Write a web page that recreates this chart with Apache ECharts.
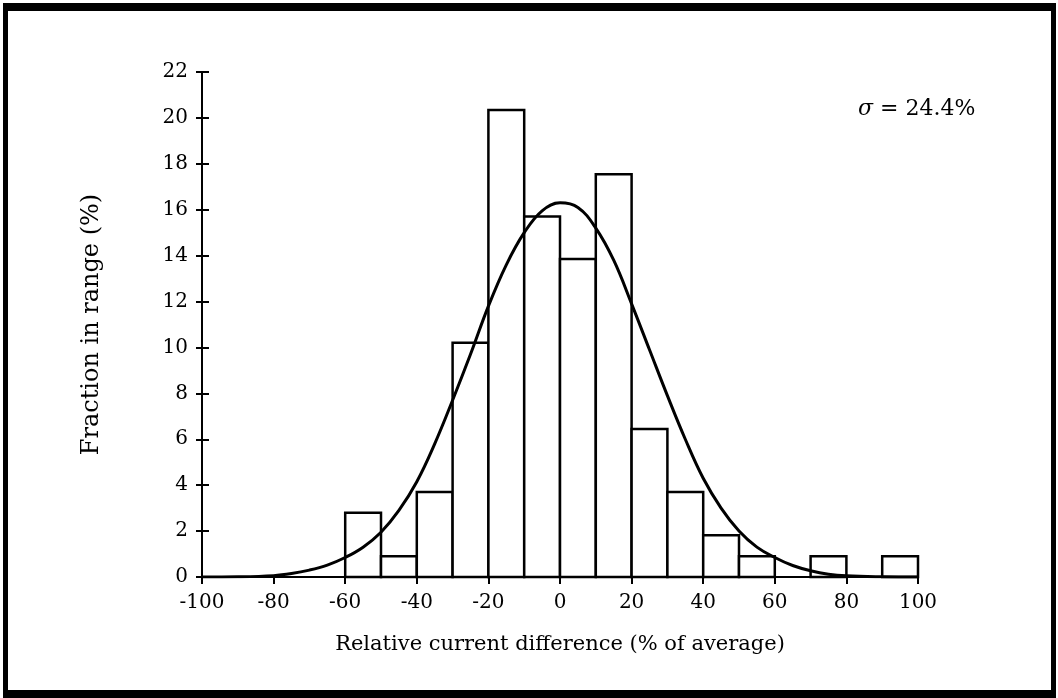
<!DOCTYPE html>
<html>
<head>
<meta charset="utf-8">
<script src="https://cdn.jsdelivr.net/npm/echarts@6/dist/echarts.min.js"></script>
<style>
  html, body { margin: 0; padding: 0; background: #fff; }
  #frame {
    position: absolute; left: 3px; top: 3px;
    width: 1043px; height: 679px;
    border-style: solid; border-color: #000;
    border-width: 8px 5px 8px 5px;
  }
  #main { position: absolute; left: 0; top: 0; width: 1058px; height: 698px; }
</style>
</head>
<body>
<div id="main"></div>
<div id="frame"></div>
<script>
// histogram bins (left edge, right edge) and heights in %
var binStart = [-60, -50, -40, -30, -20, -10, 0, 10, 20, 30, 40, 50, 70, 90];
var binEnd   = [-50, -40, -30, -20, -10, 0, 10, 20, 30, 40, 50, 60, 80, 100];
var binValue = [2.8, 0.9, 3.7, 10.2, 20.35, 15.7, 13.85, 17.55, 6.45, 3.7, 1.82, 0.9, 0.9, 0.9];

// fitted curve
var curveX = [-100, -90, -80, -75, -70, -65, -60, -55, -50, -45, -40, -35, -30, -25, -20, -15, -10, -5, 0, 5, 10, 15, 20, 25, 30, 35, 40, 45, 50, 55, 60, 65, 70, 75, 80, 90, 100];
var curveY = [0, 0.01, 0.06, 0.15, 0.3, 0.52, 0.85, 1.3, 1.95, 2.9, 4.15, 5.8, 7.7, 9.7, 11.8, 13.6, 15.0, 15.95, 16.3, 16.1, 15.2, 13.8, 11.9, 9.9, 7.9, 6.0, 4.3, 3.0, 2.0, 1.3, 0.85, 0.5, 0.27, 0.12, 0.05, 0.01, 0];

var xTicks = [-100, 100, 20];   // min, max, step
var yTicks = [0, 22, 2];

var chart = echarts.init(document.getElementById('main'));

var bins = [];
for (var i = 0; i < binStart.length; i++) {
  bins.push([binStart[i], binEnd[i], binValue[i]]);
}
var curve = [];
for (var j = 0; j < curveX.length; j++) {
  curve.push([curveX[j], curveY[j]]);
}

var font = '"DejaVu Serif", "Liberation Serif", serif';

var option = {
  animation: false,
  grid: { left: 202, right: 140, top: 72, bottom: 121 },
  xAxis: [{
    type: 'value', min: xTicks[0], max: xTicks[1], interval: xTicks[2],
    name: 'Relative current difference (% of average)',
    nameLocation: 'middle', nameGap: 57,
    nameTextStyle: { fontFamily: font, fontSize: 21, color: '#000' },
    axisLine: { onZero: false, lineStyle: { color: '#000', width: 2 } },
    axisTick: { length: 7, lineStyle: { color: '#000', width: 2 } },
    axisLabel: { fontFamily: font, fontSize: 20, color: '#000', margin: 16 },
    splitLine: { show: false }
  }],
  yAxis: [{
    type: 'value', min: yTicks[0], max: yTicks[1], interval: yTicks[2],
    name: 'Fraction in range (%)',
    nameLocation: 'middle', nameGap: 98,
    nameTextStyle: { fontFamily: font, fontSize: 24, color: '#000' },
    axisLine: { show: true, onZero: false, lineStyle: { color: '#000', width: 2 } },
    axisTick: { show: true, length: 6, lineStyle: { color: '#000', width: 2 } },
    axisLabel: { fontFamily: font, fontSize: 20, color: '#000', margin: 14 },
    splitLine: { show: false }
  }, {
    type: 'value', min: yTicks[0], max: yTicks[1], interval: yTicks[2],
    position: 'left',
    axisLine: { show: false, onZero: false },
    axisTick: { show: true, inside: true, length: 7, lineStyle: { color: '#000', width: 2 } },
    axisLabel: { show: false },
    splitLine: { show: false }
  }],
  graphic: [{
    type: 'text', left: 858, top: 98,
    style: {
      text: '{s|σ} = 24.4%',
      fontFamily: font, fontSize: 22, fill: '#000',
      rich: { s: { fontFamily: font, fontSize: 22, fontStyle: 'italic' } }
    }
  }],
  series: [{
    type: 'custom',
    data: bins,
    encode: { x: [0, 1], y: 2 },
    renderItem: function (params, api) {
      var p0 = api.coord([api.value(0), api.value(2)]);
      var p1 = api.coord([api.value(1), 0]);
      return {
        type: 'rect',
        shape: { x: p0[0], y: p0[1], width: p1[0] - p0[0], height: p1[1] - p0[1] },
        style: { fill: '#fff', stroke: '#000', lineWidth: 2.5 }
      };
    }
  }, {
    type: 'line',
    data: curve,
    smooth: 0.4,
    showSymbol: false,
    lineStyle: { color: '#000', width: 3 },
    z: 5
  }]
};
chart.setOption(option);
</script>
</body>
</html>
